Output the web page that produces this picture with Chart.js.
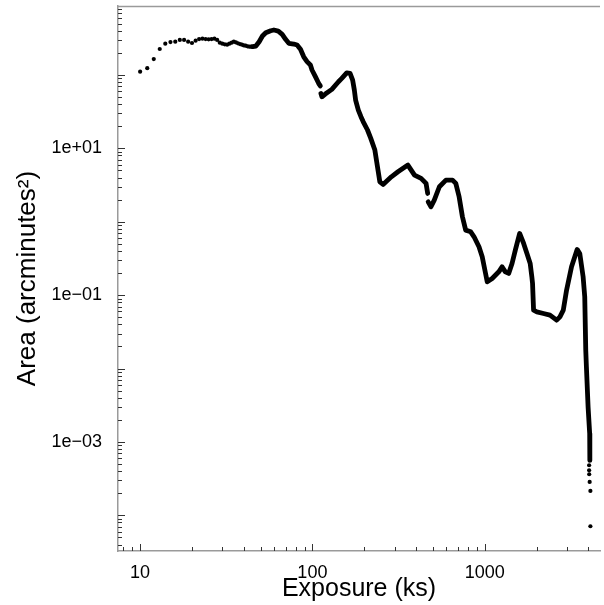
<!DOCTYPE html>
<html>
<head>
<meta charset="utf-8">
<script src="https://cdn.jsdelivr.net/npm/chart.js@4/dist/chart.umd.min.js"></script>
<style>
  html, body { margin: 0; padding: 0; background: #ffffff; }
  #wrap { width: 604px; height: 605px; }
</style>
</head>
<body>
<div id="wrap"><canvas id="c" width="604" height="605"></canvas></div>
<script>
// Early exposures (ks) drawn as separate dots
const earlyExposure = [10, 11, 12, 13, 14, 15, 16, 17, 18, 19, 20, 21, 22, 23, 24, 25, 26, 27,
  28, 29, 30, 31, 32, 33, 34, 35, 36, 37, 38, 39, 40, 41, 42, 43, 44];
const earlyArea = [111, 124, 165, 226, 267, 281, 284, 300, 300, 284, 273, 293, 309, 312, 309, 306, 309, 312,
  300, 276, 267, 262, 259, 267, 276, 284, 278, 270, 264, 259, 253, 251, 246, 243, 243];

// Dense part of the curve (null marks a break in the trace)
const exposure = [45, 47.0, 49.1, 51.3, 53.6, 57.3, 59.8, 63.4, 66.8, 69.9, 73.0, 78.0, 81.5, 85.3,
  89.1, 93.1, 97.4, 99.5, 104.1, 108.7, 111.2, 111.7, 112.1, 113.6, 118.8, 129.7, 141.7, 148.1,
  158.2, 165.5, 171.3, 175.2, 178.2, 184.8, 191.4, 197.4, 208.9, 218, 230.5, 246.4, 257.3,
  287.3, 314, 358.4, 391.7, 427.6, 457, 467, 468.5, 470, 488, 510, 546, 596, 651, 680, 711, 743,
  776, 830, 868, 927, 968, 1012, 1035, 1106, 1208, 1262, 1319, 1379, 1442, 1507, 1597, 1684,
  1760, 1838, 1879, 1897, 1923, 2009, 2195, 2395, 2618, 2735, 2861, 2989, 3194, 3443, 3565,
  3729, 3811, 3863, 3897, 3985, 4071, 4080];
const area = [243, 248, 284, 340, 377, 401, 410, 397, 358, 306, 270, 264, 256, 224,
  177, 152, 137, 117, 95, 77, 71, null, 56, 50.5, 55, 63.7, 80.9, 90,
  107, 105, 85, 62.4, 45.6, 33.3, 27, 23, 17.8, 13.8, 9.5, 3.5, 3.23,
  4.10, 4.80, 5.92, 4.32, 3.90, 3.33, 2.43, null, 1.87, 1.60, 1.97, 3.00, 3.70, 3.70, 3.33, 2.19, 1.17,
  0.769, 0.730, 0.624, 0.456, 0.333, 0.198, 0.152, 0.169, 0.208, 0.243, 0.208, 0.198, 0.270, 0.411, 0.693, 0.507,
  0.370, 0.270, 0.178, 0.144, 0.0624, 0.0592, 0.0563, 0.0534, 0.0456, 0.0506, 0.0624, 0.117, 0.243, 0.420, 0.370,
  0.178, 0.0948, 0.0178, 0.0105, 0.0030, 0.0013, 0.00056];

// Last few isolated dots of the steep drop
const tailExposure = [4040, 4040, 4045, 4070, 4110, 4110];
const tailArea = [4.81e-4, 4.11e-4, 3.63e-4, 2.85e-4, 2.15e-4, 7.1e-5];

// Axis ticks
const xTickValues = [10, 100, 1000];
const xTickLabels = ['10', '100', '1000'];
const yTickValues = [10, 0.1, 0.001];
const yTickLabels = ['1e+01', '1e\u221201', '1e\u221203'];

const FONT = "'Liberation Sans', Arial, Helvetica, sans-serif";
const pairs = (xs, ys) => xs.map((x, i) => ({ x: x, y: ys[i] }));

// Inward tick marks (majors at decades, minors at 2..9) and the top frame line
const frameTicks = {
  id: 'frameTicks',
  afterDraw(chart) {
    const { ctx, chartArea: a, scales: { x, y } } = chart;
    ctx.save();
    ctx.strokeStyle = '#9a9a9a';
    ctx.lineWidth = 1.5;
    ctx.beginPath();
    ctx.moveTo(a.left, a.top + 0.5);
    ctx.lineTo(a.right, a.top + 0.5);
    ctx.stroke();

    ctx.strokeStyle = '#333333';
    ctx.lineWidth = 1;
    ctx.beginPath();
    for (let d = 0; d <= 3; d++) {
      for (let m = 1; m <= 9; m++) {
        const v = m * Math.pow(10, d);
        if (v < x.min || v > x.max) continue;
        const px = Math.round(x.getPixelForValue(v)) + 0.5;
        const len = m === 1 ? 7 : 4;
        ctx.moveTo(px, a.bottom);
        ctx.lineTo(px, a.bottom - len);
      }
    }
    for (let d = -5; d <= 2; d++) {
      for (let m = 1; m <= 9; m++) {
        const v = m * Math.pow(10, d);
        if (v < y.min || v > y.max) continue;
        const py = Math.round(y.getPixelForValue(v)) + 0.5;
        const len = m === 1 ? 7 : 4;
        ctx.moveTo(a.left, py);
        ctx.lineTo(a.left + len, py);
      }
    }
    ctx.stroke();
    ctx.restore();
  }
};

new Chart(document.getElementById('c').getContext('2d'), {
  type: 'scatter',
  data: {
    datasets: [
      {
        data: pairs(earlyExposure, earlyArea),
        showLine: false,
        pointRadius: 2.1,
        pointBorderWidth: 0,
        pointBackgroundColor: '#000000'
      },
      {
        data: pairs(exposure, area),
        showLine: true,
        spanGaps: false,
        borderColor: '#000000',
        borderWidth: 4.8,
        borderJoinStyle: 'round',
        borderCapStyle: 'round',
        tension: 0,
        pointRadius: 0
      },
      {
        data: pairs(tailExposure, tailArea),
        showLine: false,
        pointRadius: 2.1,
        pointBorderWidth: 0,
        pointBackgroundColor: '#000000'
      }
    ]
  },
  options: {
    responsive: false,
    animation: false,
    layout: { padding: { top: 6, left: 0, right: 0, bottom: 0 } },
    plugins: { legend: { display: false }, tooltip: { enabled: false } },
    scales: {
      x: {
        type: 'logarithmic',
        min: Math.pow(10, 0.8716),
        max: Math.pow(10, 3.6696),
        bounds: 'data',
        afterBuildTicks: s => { s.ticks = xTickValues.map(v => ({ value: v })); },
        afterFit: s => { s.height = 54; s.paddingLeft = 0; s.paddingRight = 0; },
        grid: { display: false },
        border: { display: true, color: '#9a9a9a', width: 1.5 },
        ticks: {
          autoSkip: false,
          maxRotation: 0,
          padding: 3,
          color: '#000000',
          font: { family: FONT, size: 18 },
          callback: (v, i) => xTickLabels[i]
        },
        title: {
          display: true,
          text: 'Exposure (ks)',
          color: '#000000',
          font: { family: FONT, size: 25 },
          padding: { top: 0, bottom: 0.5 }
        }
      },
      y: {
        type: 'logarithmic',
        min: Math.pow(10, -4.486),
        max: Math.pow(10, 2.940),
        bounds: 'data',
        afterBuildTicks: s => { s.ticks = yTickValues.map(v => ({ value: v })); },
        afterFit: s => { s.width = 118; s.paddingTop = 0; s.paddingBottom = 0; },
        grid: { display: false },
        border: { display: true, color: '#9a9a9a', width: 1.5 },
        ticks: {
          autoSkip: false,
          padding: 8,
          color: '#000000',
          font: { family: FONT, size: 18 },
          callback: (v, i) => yTickLabels[i]
        },
        title: {
          display: true,
          text: 'Area (arcminutes\u00B2)',
          color: '#000000',
          font: { family: FONT, size: 26 },
          padding: { top: 12.4, bottom: 0 }
        }
      }
    }
  },
  plugins: [frameTicks]
});
</script>
</body>
</html>
